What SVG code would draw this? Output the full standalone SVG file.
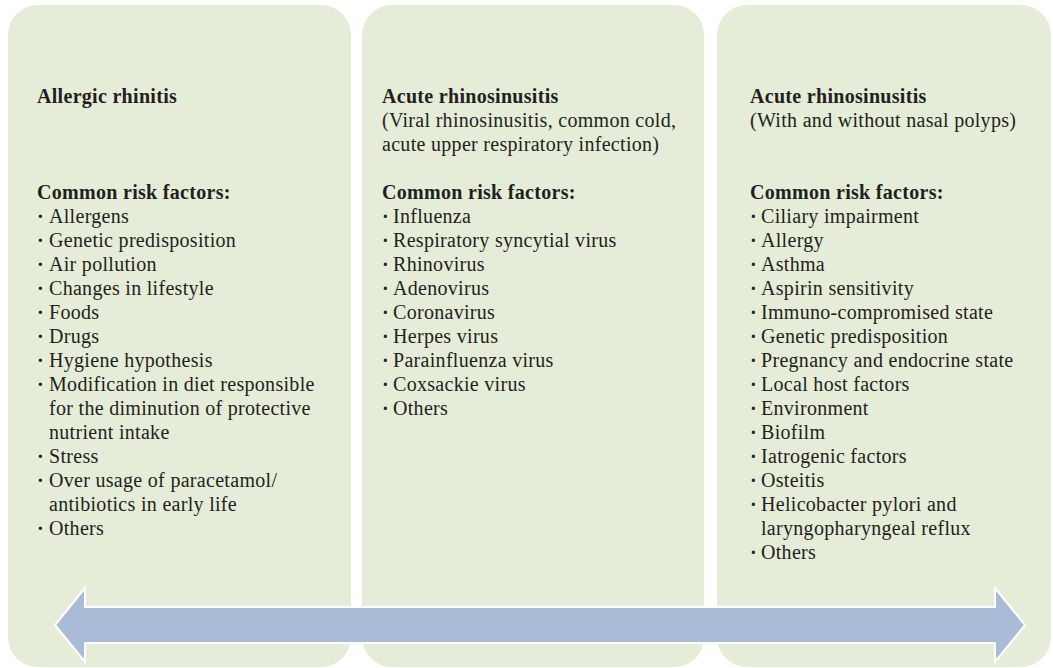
<svg xmlns="http://www.w3.org/2000/svg" width="1053" height="668" viewBox="0 0 1053 668">
  <style>
    .panel { fill: #e5edd8; }
    text { font-family: "Liberation Serif", "Times New Roman", serif; font-size: 20px; fill: #231f20; letter-spacing: 0.3px; }
    .h { font-weight: bold; }
    .dot { font-weight: bold; }
    .arrow { fill: #aabbd8; stroke: #ffffff; stroke-width: 2; stroke-linejoin: miter; }
  </style>
  <rect width="1053" height="668" fill="#ffffff"/>

  <!-- Column 1: allergic rhinitis -->
  <g id="col-allergic">
    <rect class="panel" x="8" y="5" width="343" height="662" rx="30" ry="30"/>
    <text class="h" x="37" y="103">Allergic rhinitis</text>
    <text class="h" x="37" y="199">Common risk factors:</text>
    <text x="37" y="223"><tspan class="dot">·</tspan><tspan x="49">Allergens</tspan></text>
    <text x="37" y="247"><tspan class="dot">·</tspan><tspan x="49">Genetic predisposition</tspan></text>
    <text x="37" y="271"><tspan class="dot">·</tspan><tspan x="49">Air pollution</tspan></text>
    <text x="37" y="295"><tspan class="dot">·</tspan><tspan x="49">Changes in lifestyle</tspan></text>
    <text x="37" y="319"><tspan class="dot">·</tspan><tspan x="49">Foods</tspan></text>
    <text x="37" y="343"><tspan class="dot">·</tspan><tspan x="49">Drugs</tspan></text>
    <text x="37" y="367"><tspan class="dot">·</tspan><tspan x="49">Hygiene hypothesis</tspan></text>
    <text x="37" y="391"><tspan class="dot">·</tspan><tspan x="49">Modification in diet responsible</tspan></text>
    <text x="49" y="415">for the diminution of protective</text>
    <text x="49" y="439">nutrient intake</text>
    <text x="37" y="463"><tspan class="dot">·</tspan><tspan x="49">Stress</tspan></text>
    <text x="37" y="487"><tspan class="dot">·</tspan><tspan x="49">Over usage of paracetamol/</tspan></text>
    <text x="49" y="511">antibiotics in early life</text>
    <text x="37" y="535"><tspan class="dot">·</tspan><tspan x="49">Others</tspan></text>
  </g>

  <!-- Column 2: acute (viral) rhinosinusitis -->
  <g id="col-acute-viral">
    <rect class="panel" x="362" y="5" width="342" height="662" rx="30" ry="30"/>
    <text class="h" x="382" y="103">Acute rhinosinusitis</text>
    <text x="382" y="127">(Viral rhinosinusitis, common cold,</text>
    <text x="382" y="151">acute upper respiratory infection)</text>
    <text class="h" x="382" y="199">Common risk factors:</text>
    <text x="382" y="223"><tspan class="dot">·</tspan><tspan x="393">Influenza</tspan></text>
    <text x="382" y="247"><tspan class="dot">·</tspan><tspan x="393">Respiratory syncytial virus</tspan></text>
    <text x="382" y="271"><tspan class="dot">·</tspan><tspan x="393">Rhinovirus</tspan></text>
    <text x="382" y="295"><tspan class="dot">·</tspan><tspan x="393">Adenovirus</tspan></text>
    <text x="382" y="319"><tspan class="dot">·</tspan><tspan x="393">Coronavirus</tspan></text>
    <text x="382" y="343"><tspan class="dot">·</tspan><tspan x="393">Herpes virus</tspan></text>
    <text x="382" y="367"><tspan class="dot">·</tspan><tspan x="393">Parainfluenza virus</tspan></text>
    <text x="382" y="391"><tspan class="dot">·</tspan><tspan x="393">Coxsackie virus</tspan></text>
    <text x="382" y="415"><tspan class="dot">·</tspan><tspan x="393">Others</tspan></text>
  </g>

  <!-- Column 3: acute rhinosinusitis with/without polyps -->
  <g id="col-acute-polyps">
    <rect class="panel" x="717" y="5" width="334" height="662" rx="30" ry="30"/>
    <text class="h" x="750" y="103">Acute rhinosinusitis</text>
    <text x="750" y="127">(With and without nasal polyps)</text>
    <text class="h" x="750" y="199">Common risk factors:</text>
    <text x="750" y="223"><tspan class="dot">·</tspan><tspan x="761">Ciliary impairment</tspan></text>
    <text x="750" y="247"><tspan class="dot">·</tspan><tspan x="761">Allergy</tspan></text>
    <text x="750" y="271"><tspan class="dot">·</tspan><tspan x="761">Asthma</tspan></text>
    <text x="750" y="295"><tspan class="dot">·</tspan><tspan x="761">Aspirin sensitivity</tspan></text>
    <text x="750" y="319"><tspan class="dot">·</tspan><tspan x="761">Immuno-compromised state</tspan></text>
    <text x="750" y="343"><tspan class="dot">·</tspan><tspan x="761">Genetic predisposition</tspan></text>
    <text x="750" y="367"><tspan class="dot">·</tspan><tspan x="761">Pregnancy and endocrine state</tspan></text>
    <text x="750" y="391"><tspan class="dot">·</tspan><tspan x="761">Local host factors</tspan></text>
    <text x="750" y="415"><tspan class="dot">·</tspan><tspan x="761">Environment</tspan></text>
    <text x="750" y="439"><tspan class="dot">·</tspan><tspan x="761">Biofilm</tspan></text>
    <text x="750" y="463"><tspan class="dot">·</tspan><tspan x="761">Iatrogenic factors</tspan></text>
    <text x="750" y="487"><tspan class="dot">·</tspan><tspan x="761">Osteitis</tspan></text>
    <text x="750" y="511"><tspan class="dot">·</tspan><tspan x="761">Helicobacter pylori and</tspan></text>
    <text x="761" y="535">laryngopharyngeal reflux</text>
    <text x="750" y="559"><tspan class="dot">·</tspan><tspan x="761">Others</tspan></text>
  </g>

  <!-- Double-headed arrow spanning all three columns -->
  <g id="connectors">
    <path class="arrow" d="M55,625 L85,588 L85,607 L995,607 L995,588 L1025,625 L995,662 L995,643 L85,643 L85,662 Z"/>
  </g>
</svg>
